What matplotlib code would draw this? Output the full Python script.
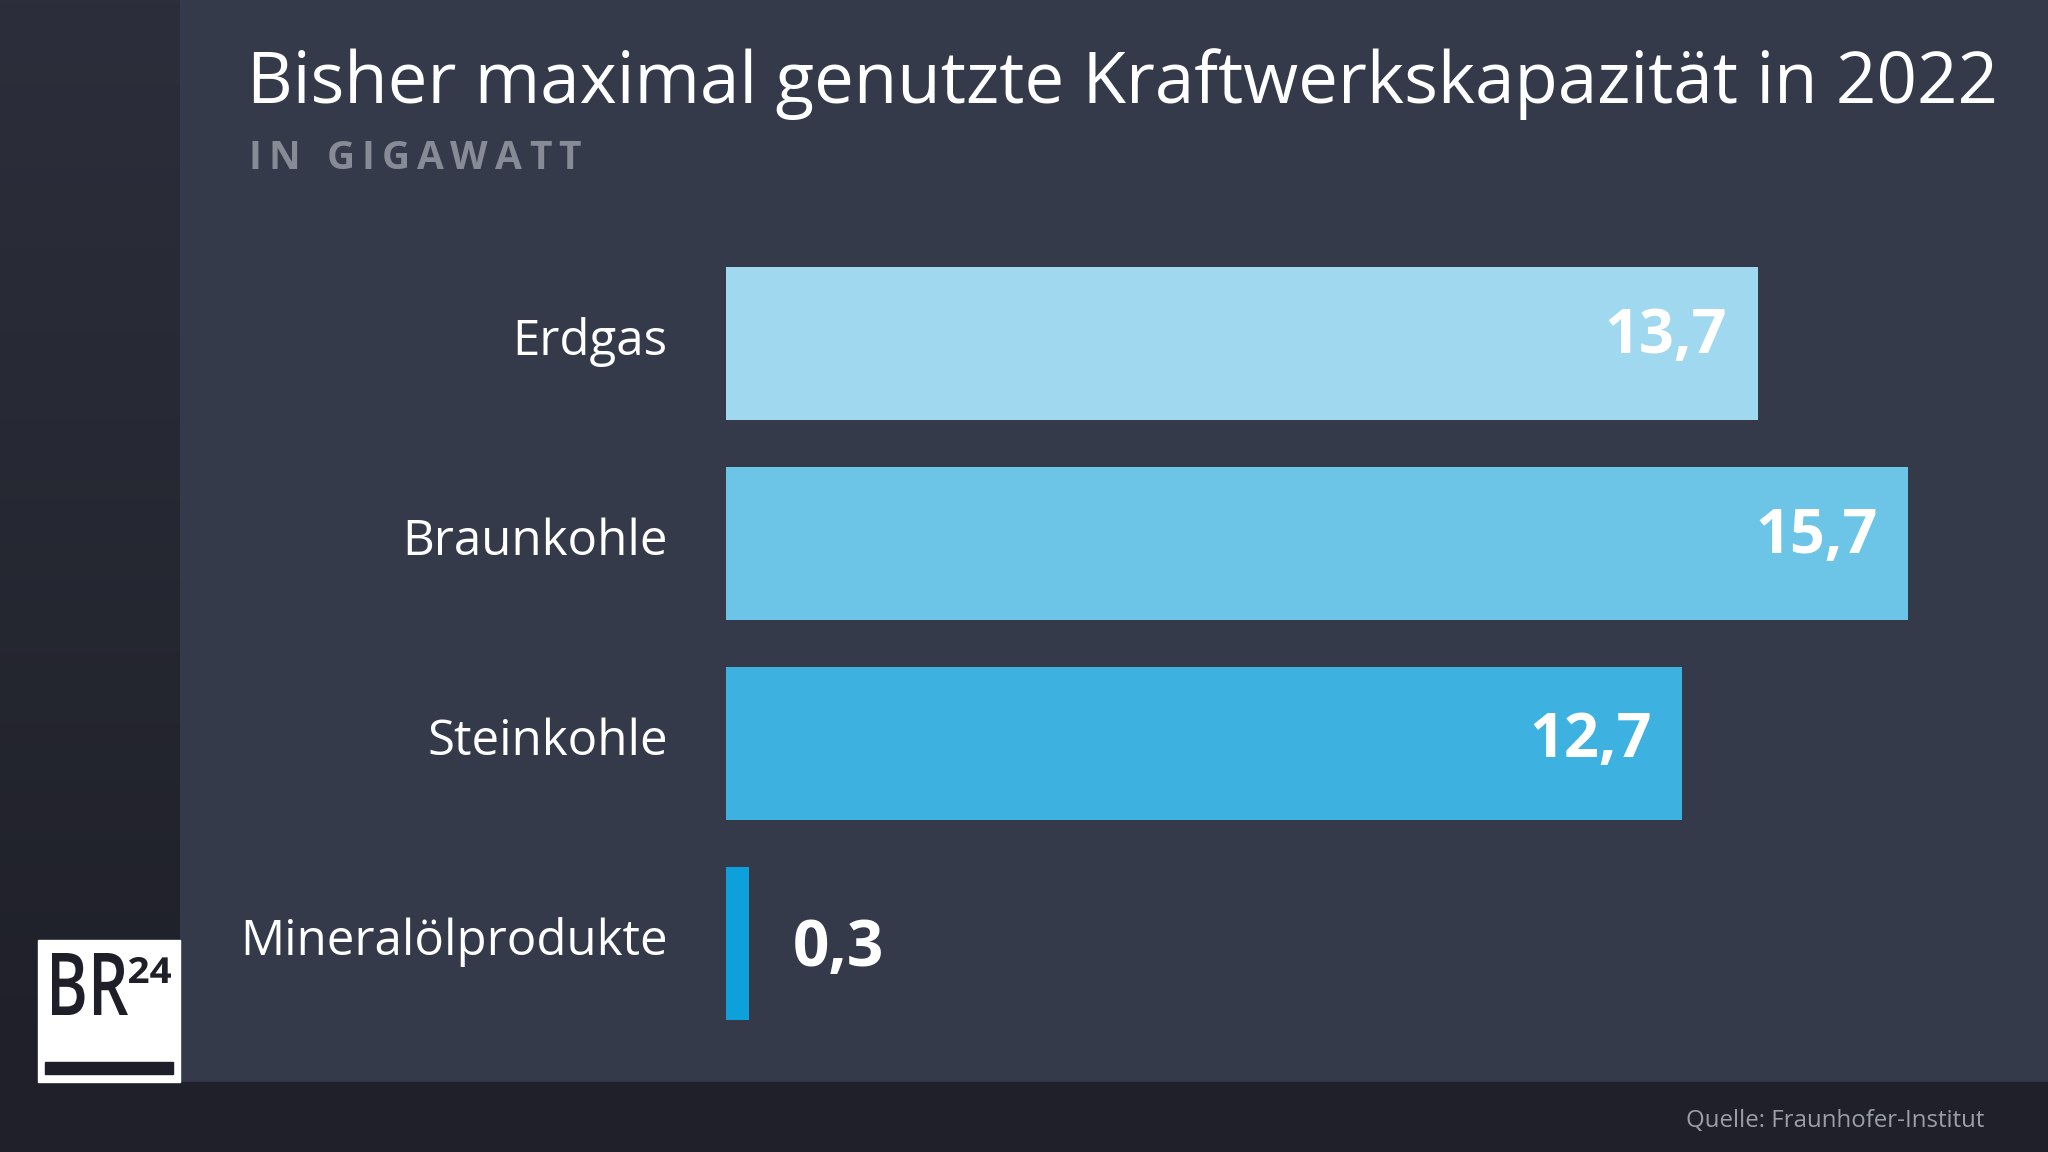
import matplotlib.pyplot as plt
import numpy as np
from matplotlib.colors import LinearSegmentedColormap
from matplotlib.font_manager import FontProperties
from matplotlib.patches import PathPatch, Rectangle
from matplotlib.textpath import TextPath
from matplotlib.transforms import Affine2D

plt.rcParams["font.family"] = ["Open Sans", "DejaVu Sans"]

# data
categories = ["Erdgas", "Braunkohle", "Steinkohle", "Mineralölprodukte"]
values = [13.7, 15.7, 12.7, 0.3]
value_labels = ["13,7", "15,7", "12,7", "0,3"]
bar_colors = ["#a0d9ef", "#6cc4e7", "#3db1e0", "#0ea0da"]

title = "Bisher maximal genutzte Kraftwerkskapazität in 2022"
subtitle = "IN GIGAWATT"
source = "Quelle: Fraunhofer-Institut"

W, H = 2048, 1152
BG = "#353a4a"
FOOTER = "#1f2029"
LOGO_INK = "#1e1f29"

fig = plt.figure(figsize=(W / 100, H / 100), dpi=100)
fig.patch.set_facecolor(BG)

# background / decoration layer in pixel coords (y down)
bg = fig.add_axes([0, 0, 1, 1])
bg.axis("off")
bg.add_patch(Rectangle((0, 0), W, H, color=BG, zorder=0))
grad = np.linspace(0, 1, 256).reshape(-1, 1)
side_cmap = LinearSegmentedColormap.from_list("side", ["#2c2f3b", "#1f2029"])
bg.imshow(grad, cmap=side_cmap, extent=(0, 180, 1082, 0), aspect="auto", zorder=1)
bg.add_patch(Rectangle((0, 1082), W, H - 1082, color=FOOTER, zorder=1))
bg.set_xlim(0, W)
bg.set_ylim(H, 0)


def fitted_text(s, x0, y0, w, h, weight="bold"):
    # text path scaled into box (x0, y0 top-left, w x h) in pixel coords
    tp = TextPath((0, 0), s, size=100, prop=FontProperties(family="Open Sans", weight=weight))
    ext = tp.get_extents()
    tr = (Affine2D().translate(-ext.x0, -ext.y0)
          .scale(w / ext.width, -h / ext.height)
          .translate(x0, y0 + h))
    bg.add_patch(PathPatch(tr.transform_path(tp), color=LOGO_INK, lw=0, zorder=3))


# BR24 logo
bg.add_patch(Rectangle((38, 940), 142, 142, color="white", zorder=2))
bg.add_patch(Rectangle((45, 1062), 128, 12, color=LOGO_INK, zorder=3))
fitted_text("BR", 52, 953, 76, 62, weight="semibold")
fitted_text("24", 129, 957, 42, 26, weight="bold")

# titles
bg.text(247, 103, title, fontsize=51, color="white", ha="left", va="baseline", zorder=3)

renderer = fig.canvas.get_renderer()
x = 249
for ch in subtitle:
    if ch == " ":
        x += 12
    else:
        t = bg.text(x, 169, ch, fontsize=28, fontweight="bold", color="#868b96",
                    ha="left", va="baseline", zorder=3)
        x += t.get_window_extent(renderer).width
    x += 7

bg.text(1984, 1127, source, fontsize=17.3, color="#9a9ea8", ha="right",
        va="baseline", zorder=3)

# bar chart axes: x=0 at px 726, 75.3 px per GW
px_per_unit = 75.3
left_px, right_px = 726, 1998
top_px, bottom_px = 243, 1043
ax = fig.add_axes([left_px / W, 1 - bottom_px / H,
                   (right_px - left_px) / W, (bottom_px - top_px) / H])
ax.set_facecolor("none")
ax.set_xlim(0, (right_px - left_px) / px_per_unit)
ax.set_ylim(len(categories) - 0.5, -0.5)
ax.axis("off")

ypos = np.arange(len(categories))
ax.barh(ypos, values, height=0.765, color=bar_colors, zorder=2)

for y, cat in zip(ypos, categories):
    ax.annotate(cat, xy=(0, y), xytext=(-42, 5), textcoords="offset points",
                ha="right", va="center_baseline", fontsize=35.5, fontweight="normal",
                color="white", annotation_clip=False)

value_dy = [4, 4, 1, -5]
for y, v, lab, dy in zip(ypos, values, value_labels, value_dy):
    if v > 2:
        ax.annotate(lab, xy=(v, y), xytext=(-22, dy), textcoords="offset points",
                    ha="right", va="center", fontsize=44, fontweight="bold",
                    color="white", zorder=3)
    else:
        ax.annotate(lab, xy=(v, y), xytext=(32, dy), textcoords="offset points",
                    ha="left", va="center", fontsize=46, fontweight="bold",
                    color="white", zorder=3)

fig.savefig("out.png", dpi=100, facecolor=fig.get_facecolor())
